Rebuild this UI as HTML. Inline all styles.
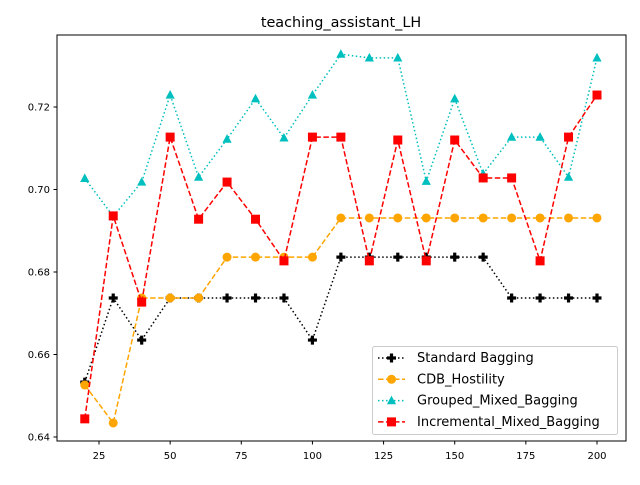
<!DOCTYPE html>
<html><head><meta charset="utf-8"><style>
body{margin:0;background:#fff}
svg text{font-family:"DejaVu Sans","Liberation Sans",sans-serif}
</style></head><body>
<svg id="c" width="640" height="480" xmlns="http://www.w3.org/2000/svg">
<rect width="640" height="480" fill="#fff"/>
<text x="341" y="27" font-size="14.4" text-anchor="middle">teaching_assistant_LH</text>
<g id="grid"></g>
<g id="series"></g>
<rect x="57" y="35" width="569" height="406" fill="none" stroke="#000" stroke-width="1"/>
<g id="legend"></g>
</svg>
<script>
const xs=[20,30,40,50,60,70,80,90,100,110,120,130,140,150,160,170,180,190,200];
const standardBagging=[0.6533,0.6737,0.6635,0.6737,0.6737,0.6737,0.6737,0.6737,0.6635,0.6836,0.6836,0.6836,0.6836,0.6836,0.6836,0.6737,0.6737,0.6737,0.6737];
const cdbHostility=[0.6526,0.6434,0.6737,0.6737,0.6737,0.6836,0.6836,0.6836,0.6836,0.6931,0.6931,0.6931,0.6931,0.6931,0.6931,0.6931,0.6931,0.6931,0.6931];
const groupedMixed=[0.7027,0.6935,0.7018,0.7229,0.7030,0.7122,0.7220,0.7125,0.7229,0.7328,0.7319,0.7319,0.7020,0.7220,0.7038,0.7127,0.7127,0.7030,0.7319];
const incrementalMixed=[0.6444,0.6936,0.6727,0.7127,0.6928,0.7018,0.6928,0.6827,0.7127,0.7127,0.6827,0.7120,0.6827,0.7120,0.7028,0.7028,0.6827,0.7127,0.7229];
const xTicks=[25,50,75,100,125,150,175,200];
const yTicks=[0.64,0.66,0.68,0.70,0.72];
const names=["Standard Bagging","CDB_Hostility","Grouped_Mixed_Bagging","Incremental_Mixed_Bagging"];

const NS="http://www.w3.org/2000/svg";
function X(v){return 99+(v-25)*(597-99)/175;}
function Y(v){return 437-(v-0.64)*4125;}
function mk(t,a,p){const e=document.createElementNS(NS,t);for(const k in a)e.setAttribute(k,a[k]);p.appendChild(e);return e;}
const grid=document.getElementById('grid');
xTicks.forEach(t=>{
  const l=mk('line',{x1:X(t),x2:X(t),y1:441,y2:444.5,stroke:'#000'},grid);
  
  
  const tx=mk('text',{x:X(t),y:459,'font-size':10,'text-anchor':'middle'},grid);tx.textContent=t;
  
  
});
yTicks.forEach(t=>{
  const l=mk('line',{x1:53.5,x2:57,y1:Y(t),y2:Y(t),stroke:'#000'},grid);
  
  
  const tx=mk('text',{x:50,y:Y(t)+3.5,'font-size':10,'text-anchor':'end'},grid);tx.textContent=t.toFixed(2);
  
  
});
function marker(kind,x,y,col,p){
  if(kind==='plus'){return mk('path',{d:`M${x-1.6} ${y-4.5}h3.2v2.9h2.9v3.2h-2.9v2.9h-3.2v-2.9h-2.9v-3.2h2.9z`,fill:col},p);}
  if(kind==='circle'){return mk('circle',{cx:x,cy:y,r:4.5,fill:col},p);}
  if(kind==='tri'){return mk('path',{d:`M${x} ${y-5}L${x+4.6} ${y+3.6}L${x-4.6} ${y+3.6}Z`,fill:col},p);}
  return mk('rect',{x:x-4.5,y:y-4.5,width:9,height:9,fill:col},p);
}
const specs=[
 {d:standardBagging,c:'#000',dash:'1.5,2.5',m:'plus',n:'standard-bagging'},
 {d:cdbHostility,c:'#ffa500',dash:'5.5,2.5',m:'circle',n:'cdb-hostility'},
 {d:groupedMixed,c:'#00bfbf',dash:'1.5,2.5',m:'tri',n:'grouped-mixed-bagging'},
 {d:incrementalMixed,c:'#ff0000',dash:'5.5,2.5',m:'square',n:'incremental-mixed-bagging'}];
const sg=document.getElementById('series');
specs.forEach(s=>{
  const g=mk('g',{},sg);
  
  
  const pts=s.d.map((v,i)=>X(xs[i])+','+Y(v)).join(' ');
  const pl=mk('polyline',{points:pts,fill:'none',stroke:s.c,'stroke-width':1.5,'stroke-dasharray':s.dash},g);
  
  
  s.d.forEach((v,i)=>{
    const m=marker(s.m,X(xs[i]),Y(v),s.c,g);
    
    
  });
});
const lg=document.getElementById('legend');
mk('rect',{x:372.5,y:346.5,width:245,height:88,rx:2,fill:'#fff','fill-opacity':0.8,stroke:'#ccc'},lg);
specs.forEach((s,i)=>{
  const y=358+i*21.3;
  const g=mk('g',{},lg);
  
  
  mk('line',{x1:378,x2:405,y1:y,y2:y,stroke:s.c,'stroke-width':1.5,'stroke-dasharray':s.dash},g);
  marker(s.m,391.5,y,s.c,g);
  const t=mk('text',{x:417,y:y+4,'font-size':13},g);t.textContent=names[i];
});
</script>
</body></html>
